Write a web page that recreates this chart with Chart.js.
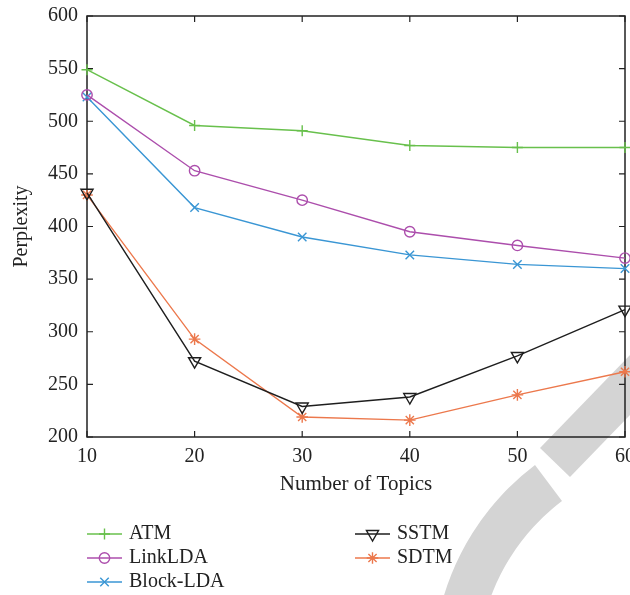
<!DOCTYPE html>
<html lang="en">
<head>
    <meta charset="UTF-8">
    <title>Perplexity vs Number of Topics</title>
    <script src="https://cdn.jsdelivr.net/npm/chart.js"></script>
    <style>
        html, body { margin: 0; padding: 0; background: #fff; overflow: hidden; }
        .wrap { position: relative; width: 660px; height: 595px; }
        .wrap svg, .wrap canvas { position: absolute; left: 0; top: 0; }
    </style>
</head>
<body>
    <div class="wrap">
        <!-- faint watermark behind the chart -->
        <svg width="630" height="595">
            <polygon points="540,448 630,355 660,384 570,477" fill="#d4d4d4"/>
            <path d="M 467 798 A 257 257 0 0 1 535 465 L 562 501 A 212 212 0 0 0 506 776 Z" fill="#d4d4d4"/>
        </svg>
        <canvas id="perplexityChart" width="660" height="595"></canvas>
    </div>

    <script>
        const topics = [10, 20, 30, 40, 50, 60];
        const atm = [549, 496, 491, 477, 475, 475];
        const linkLDA = [525, 453, 425, 395, 382, 370];
        const blockLDA = [523, 418, 390, 373, 364, 360];
        const sstm = [432, 272, 229, 238, 277, 321];
        const sdtm = [430, 293, 219, 216, 240, 262];
        const yTicks = [200, 250, 300, 350, 400, 450, 500, 550, 600];

        const serif = '"Liberation Serif", "DejaVu Serif", serif';
        Chart.defaults.font.family = serif;
        Chart.defaults.color = '#222';

        function series(label, values, color, style, radius, rotation) {
            return {
                label: label,
                data: topics.map((t, i) => ({ x: t, y: values[i] })),
                borderColor: color,
                backgroundColor: color,
                borderWidth: 1.4,
                pointStyle: style,
                pointRadius: radius,
                pointRotation: rotation || 0,
                pointBorderWidth: 1.4,
                pointBackgroundColor: 'rgba(0,0,0,0)',
                pointBorderColor: color,
                fill: false,
                tension: 0,
                clip: false
            };
        }

        const datasets = [
            series('ATM', atm, 'rgb(104, 192, 76)', 'cross', 5.5),
            series('LinkLDA', linkLDA, 'rgb(172, 78, 172)', 'circle', 5.2),
            series('Block-LDA', blockLDA, 'rgb(58, 150, 212)', 'crossRot', 6),
            series('SSTM', sstm, 'rgb(30, 30, 30)', 'triangle', 7, 180),
            series('SDTM', sdtm, 'rgb(236, 120, 76)', 'star', 5.8)
        ];

        // box around the plot with inward tick marks on all four sides
        const frameTicks = {
            id: 'frameTicks',
            beforeDatasetsDraw(chart) {
                const { ctx, chartArea: a, scales: { x, y } } = chart;
                ctx.save();
                ctx.strokeStyle = '#222';
                ctx.lineWidth = 1.5;
                ctx.strokeRect(a.left, a.top, a.right - a.left, a.bottom - a.top);
                ctx.lineWidth = 1.2;
                ctx.beginPath();
                x.ticks.forEach(t => {
                    const px = x.getPixelForValue(t.value);
                    ctx.moveTo(px, a.bottom); ctx.lineTo(px, a.bottom - 6);
                    ctx.moveTo(px, a.top); ctx.lineTo(px, a.top + 6);
                });
                y.ticks.forEach(t => {
                    const py = y.getPixelForValue(t.value);
                    ctx.moveTo(a.left, py); ctx.lineTo(a.left + 6, py);
                    ctx.moveTo(a.right, py); ctx.lineTo(a.right - 6, py);
                });
                ctx.stroke();
                ctx.restore();
            }
        };

        // two-column legend under the axes
        const legendSlots = [[87, 534], [87, 558], [87, 582], [355, 534], [355, 558]];
        const sideLegend = {
            id: 'sideLegend',
            afterDraw(chart) {
                const ctx = chart.ctx;
                ctx.save();
                chart.data.datasets.forEach((ds, i) => {
                    const [lx, ly] = legendSlots[i];
                    ctx.strokeStyle = ds.borderColor;
                    ctx.lineWidth = ds.borderWidth;
                    ctx.beginPath();
                    ctx.moveTo(lx, ly);
                    ctx.lineTo(lx + 35, ly);
                    ctx.stroke();
                    ctx.fillStyle = 'rgba(0,0,0,0)';
                    Chart.helpers.drawPoint(ctx, {
                        pointStyle: ds.pointStyle,
                        radius: ds.pointRadius,
                        rotation: ds.pointRotation,
                        borderWidth: ds.pointBorderWidth
                    }, lx + 17.5, ly);
                    ctx.fillStyle = '#222';
                    ctx.font = '20px ' + serif;
                    ctx.textBaseline = 'middle';
                    ctx.textAlign = 'left';
                    ctx.fillText(ds.label, lx + 42, ly);
                });
                ctx.restore();
            }
        };

        new Chart(document.getElementById('perplexityChart').getContext('2d'), {
            type: 'line',
            data: { datasets: datasets },
            options: {
                responsive: false,
                animation: false,
                layout: { padding: { top: 16, right: 35, bottom: 98, left: 0 } },
                plugins: {
                    legend: { display: false },
                    tooltip: { enabled: false }
                },
                scales: {
                    x: {
                        type: 'linear',
                        min: 10,
                        max: 60,
                        afterFit: s => { s.height = 60; s.paddingLeft = 0; s.paddingRight = 0; },
                        afterBuildTicks: s => { s.ticks = topics.map(v => ({ value: v })); },
                        grid: { display: false, drawTicks: false },
                        border: { display: false },
                        ticks: { padding: 8, font: { size: 20 }, color: '#222' },
                        title: {
                            display: true,
                            text: 'Number of Topics',
                            font: { size: 21 },
                            color: '#222',
                            padding: { top: 4, bottom: 0 }
                        }
                    },
                    y: {
                        min: 200,
                        max: 600,
                        afterFit: s => { s.width = 87; s.paddingTop = 0; s.paddingBottom = 0; },
                        afterBuildTicks: s => { s.ticks = yTicks.map(v => ({ value: v })); },
                        grid: { display: false, drawTicks: false },
                        border: { display: false },
                        ticks: { padding: 9, font: { size: 20 }, color: '#222' },
                        title: {
                            display: true,
                            text: 'Perplexity',
                            font: { size: 20 },
                            color: '#222',
                            padding: { top: 10, bottom: 0 }
                        }
                    }
                }
            },
            plugins: [frameTicks, sideLegend]
        });
    </script>
</body>
</html>
